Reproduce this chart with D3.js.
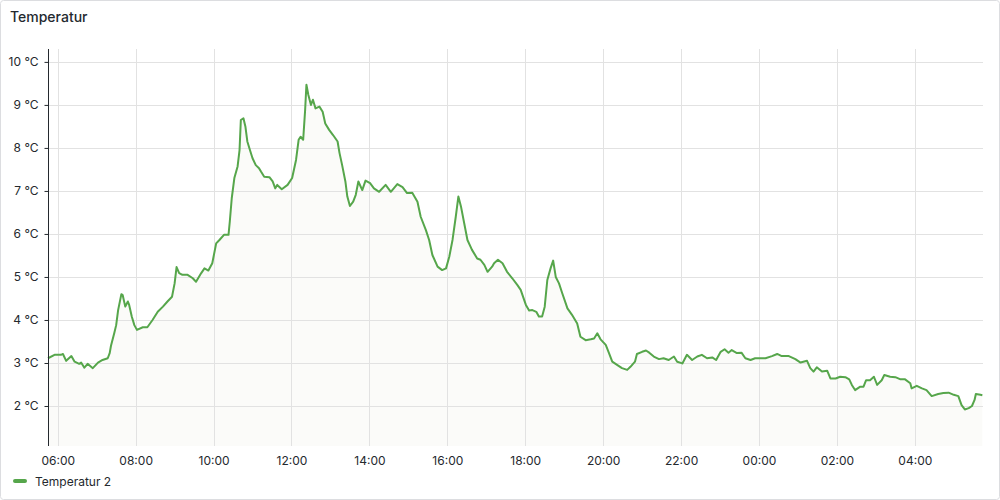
<!DOCTYPE html>
<html><head><meta charset="utf-8">
<script src="https://cdn.jsdelivr.net/npm/d3@7"></script>
<style>
html,body{margin:0;padding:0;background:#fff;}
svg{display:block;font-family:Inter,"Noto Sans",sans-serif;}
</style></head>
<body><svg id="c" width="1000" height="500"></svg>
<script>
const title = "Temperatur";
const seriesName = "Temperatur 2";
const times = ["05:45","05:55","06:05","06:08","06:13","06:21","06:26","06:33","06:36","06:41","06:46","06:54","07:02","07:09","07:17","07:20","07:22","07:27","07:30","07:33","07:38","07:40","07:44","07:48","07:50","07:54","07:58","08:02","08:11","08:18","08:26","08:34","08:42","08:49","08:56","09:00","09:03","09:07","09:12","09:20","09:28","09:33","09:41","09:46","09:52","09:58","10:04","10:09","10:16","10:23","10:25","10:28","10:32","10:37","10:40","10:42","10:46","10:49","10:52","10:56","11:00","11:05","11:10","11:13","11:18","11:26","11:31","11:35","11:38","11:45","11:54","12:01","12:07","12:11","12:14","12:18","12:21","12:23","12:26","12:30","12:33","12:37","12:43","12:48","12:52","12:58","13:04","13:11","13:14","13:18","13:23","13:26","13:30","13:35","13:39","13:43","13:49","13:54","14:01","14:07","14:15","14:25","14:33","14:43","14:51","14:58","15:06","15:14","15:19","15:27","15:32","15:37","15:45","15:52","15:58","16:03","16:08","16:13","16:17","16:21","16:26","16:31","16:38","16:46","16:51","16:57","17:02","17:09","17:12","17:18","17:25","17:32","17:40","17:48","17:53","18:01","18:06","18:11","18:17","18:21","18:26","18:30","18:34","18:39","18:43","18:47","18:52","18:57","19:05","19:12","19:20","19:25","19:33","19:41","19:46","19:51","19:56","20:04","20:09","20:14","20:22","20:29","20:37","20:42","20:49","20:52","21:00","21:06","21:11","21:18","21:26","21:33","21:41","21:49","21:54","22:02","22:09","22:17","22:25","22:32","22:40","22:48","22:54","23:01","23:07","23:13","23:18","23:26","23:33","23:39","23:47","23:54","00:02","00:10","00:20","00:28","00:35","00:46","00:56","01:04","01:14","01:19","01:24","01:29","01:37","01:45","01:50","01:58","02:05","02:13","02:19","02:23","02:28","02:36","02:41","02:45","02:51","02:57","03:02","03:09","03:13","03:22","03:30","03:38","03:45","03:53","03:55","04:03","04:11","04:18","04:26","04:36","04:44","04:52","05:00","05:07","05:12","05:17","05:23","05:28","05:32","05:34","05:41","05:44"];
const values = [3.11,3.19,3.19,3.21,3.05,3.16,3.03,2.98,3.01,2.89,2.98,2.88,3.01,3.07,3.11,3.23,3.40,3.69,3.88,4.23,4.60,4.58,4.31,4.43,4.35,4.08,3.88,3.77,3.83,3.83,4.00,4.19,4.31,4.43,4.54,4.85,5.23,5.09,5.05,5.05,4.97,4.89,5.09,5.20,5.15,5.32,5.78,5.86,5.98,5.98,6.29,6.83,7.30,7.57,7.95,8.65,8.69,8.50,8.15,7.95,7.76,7.60,7.53,7.45,7.33,7.32,7.22,7.06,7.14,7.04,7.14,7.30,7.72,8.19,8.26,8.19,8.88,9.47,9.23,9.00,9.12,8.92,8.96,8.84,8.57,8.42,8.30,8.15,7.88,7.60,7.22,6.87,6.65,6.75,6.91,7.22,7.02,7.24,7.18,7.06,6.98,7.14,6.98,7.16,7.09,6.95,6.96,6.75,6.40,6.09,5.86,5.51,5.24,5.16,5.20,5.47,5.86,6.40,6.87,6.64,6.25,5.86,5.63,5.43,5.40,5.28,5.12,5.24,5.32,5.40,5.32,5.12,4.97,4.81,4.70,4.35,4.22,4.23,4.19,4.08,4.08,4.31,4.93,5.20,5.38,5.00,4.85,4.62,4.27,4.12,3.92,3.61,3.53,3.55,3.57,3.69,3.55,3.42,3.23,3.03,2.95,2.88,2.84,2.91,3.03,3.21,3.26,3.29,3.24,3.15,3.09,3.11,3.07,3.15,3.03,2.99,3.19,3.07,3.15,3.19,3.11,3.13,3.07,3.26,3.32,3.24,3.30,3.23,3.24,3.11,3.07,3.11,3.11,3.11,3.16,3.21,3.16,3.16,3.09,3.01,3.05,2.88,2.80,2.90,2.80,2.82,2.64,2.64,2.68,2.67,2.62,2.49,2.37,2.45,2.45,2.60,2.60,2.68,2.49,2.60,2.72,2.68,2.67,2.62,2.62,2.53,2.41,2.47,2.41,2.37,2.23,2.28,2.30,2.31,2.26,2.23,2.02,1.92,1.95,2.00,2.14,2.28,2.26,2.25];
const yTicks = [2,3,4,5,6,7,8,9,10];
const xTickLabels = ["06:00","08:00","10:00","12:00","14:00","16:00","18:00","20:00","22:00","00:00","02:00","04:00"];
const timeRange = ["05:45","05:45"];

const base = new Date(2024,0,1);
function toDate(s, dayOffset){const [h,m]=s.split(":").map(Number);return new Date(base.getTime()+((dayOffset*24+h)*60+m)*60000);}
let day=0, prev=-1;
const data = times.map((t,i)=>{const [h,m]=t.split(":").map(Number);const mm=h*60+m;if(mm<prev)day++;prev=mm;return {t:toDate(t,day),v:values[i]};});
const xTicks = []; {let d=0,p=-1; xTickLabels.forEach(s=>{const [h,m]=s.split(":").map(Number);const mm=h*60+m;if(mm<p)d++;p=mm;xTicks.push(toDate(s,d));});}

const svg = d3.select("#c");
svg.append("rect").attr("x",0.5).attr("y",0.5).attr("width",999).attr("height",499).attr("rx",3).attr("fill","#fff").attr("stroke","#dcdde0");
svg.append("text").attr("x",10).attr("y",22).attr("font-size",14).attr("font-weight",500).attr("fill","#24292e").text(title);

const L=48,R=983,T=49,B=446;
const x = d3.scaleTime().domain([toDate(timeRange[0],0),toDate(timeRange[1],1)]).range([L,R]);
const y = d3.scaleLinear().domain([1.07,10.3]).range([B,T]);

const g = svg.append("g");
// area first, then grid, then line
const area = d3.area().x(d=>x(d.t)).y0(B).y1(d=>y(d.v)).curve(d3.curveLinear);
const line = d3.line().x(d=>x(d.t)).y(d=>y(d.v)).curve(d3.curveLinear);
g.append("path").datum(data).attr("d",area).attr("fill","#fbfbf9");
g.selectAll(".gy").data(yTicks).enter().append("line").attr("x1",L).attr("x2",R).attr("y1",d=>Math.round(y(d))+0.5).attr("y2",d=>Math.round(y(d))+0.5).attr("stroke","#e2e2e2");
g.selectAll(".gx").data(xTicks).enter().append("line").attr("y1",T).attr("y2",B).attr("x1",d=>Math.round(x(d))+0.5).attr("x2",d=>Math.round(x(d))+0.5).attr("stroke","#e2e2e2");
g.append("path").datum(data).attr("d",line).attr("fill","none").attr("stroke","#56a64b").attr("stroke-width",2).attr("stroke-linejoin","round");

// y axis
const ya = d3.axisLeft(y).tickValues(yTicks).tickSize(4).tickPadding(6).tickFormat(d=>d+" °C");
const yg = svg.append("g").attr("transform",`translate(${L+0.5},0)`).call(ya);
yg.select(".domain").attr("d",`M0,${T}V${B}`).attr("stroke","#24292e");
yg.selectAll(".tick line").attr("stroke","#24292e");
yg.selectAll("text").attr("font-size",12).attr("fill","#24292e").attr("font-family","Inter,sans-serif");

// x axis
const xa = d3.axisBottom(x).tickValues(xTicks).tickSize(0).tickPadding(10).tickFormat(d3.timeFormat("%H:%M"));
const xg = svg.append("g").attr("transform",`translate(0,${B})`).call(xa);
xg.select(".domain").remove();
xg.selectAll("text").attr("font-size",12).attr("fill","#24292e").attr("font-family","Inter,sans-serif");

// legend
svg.append("line").attr("x1",15).attr("x2",25).attr("y1",481).attr("y2",481).attr("stroke","#56a64b").attr("stroke-width",4).attr("stroke-linecap","round");
svg.append("text").attr("x",35).attr("y",485.5).attr("font-size",12).attr("fill","#24292e").text(seriesName);
</script></body></html>
